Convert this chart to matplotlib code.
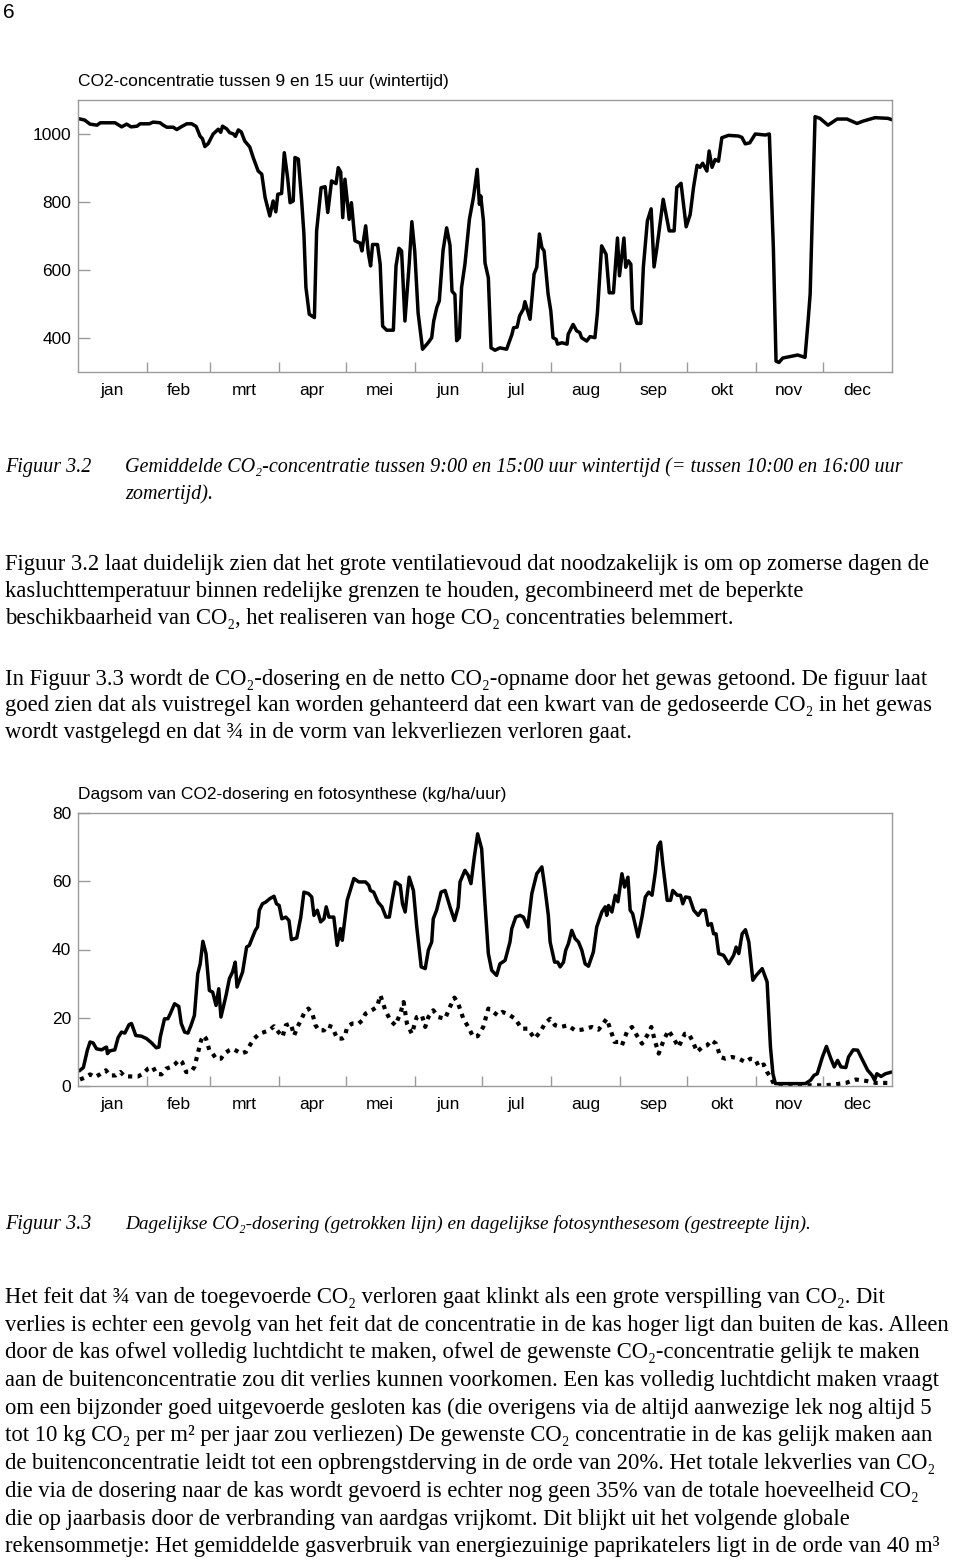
import numpy as np
import matplotlib.pyplot as plt

plt.rcParams['font.family'] = ['Liberation Sans', 'DejaVu Sans']

W, H = 960, 1566
SERIF = ['Liberation Serif', 'DejaVu Serif']

months = ['jan', 'feb', 'mrt', 'apr', 'mei', 'jun', 'jul', 'aug', 'sep', 'okt', 'nov', 'dec']
month_len = [31, 28, 31, 30, 31, 30, 31, 31, 30, 31, 30, 31]

# Figuur 3.2 : CO2-concentratie (ppm) per dag van het jaar
co2_day = [1, 3, 5.4, 8.5, 10, 16.6, 19.6, 21.8, 23.8, 26.5, 27.8, 32, 33.7, 36.8, 38, 39.8,
           42.7, 44.3, 46.5, 48.8, 51, 53, 54.7, 55.8, 56.9, 58.4, 60.6, 62.9, 64, 64.8, 66.7,
           68, 69.7, 70.6, 71.9, 73.2, 74.8, 77, 78.6, 80.8, 82.4, 83.9, 86, 87.5, 88.7, 89.6,
           91.3, 92.5, 94, 95.1, 96.5, 97.3, 98.8, 100.3, 101.3, 102.2, 103.7, 106, 107, 109,
           110.8, 112, 113.7, 115.7, 116.7, 117.8, 118.7, 119.7, 121.6, 122.6, 124.2, 126.5,
           127.3, 129, 130.2, 131.2, 132.1, 134.3, 135.5, 136.6, 138.4, 141.4, 142.6, 143.9,
           145.1, 146.6, 148.5, 149.7, 151, 152.5, 154.5, 157, 158.6, 159.5, 160.9, 162, 163.7,
           165.3, 166.8, 167.7, 169, 169.8, 171, 172, 173.5, 175.5, 177.3, 179, 180,
           180.6, 181.8, 182.5, 184, 185.2, 187, 189.2, 192.2, 194.6, 195.3, 196.9, 198, 199.7,
           200.4, 202.7, 204.5, 205.7, 206.9, 208, 209, 210.8, 212, 213, 214.4, 215, 217, 219.3,
           219.8, 222, 223.6, 225, 225.8, 228.1, 229.6, 231.8, 232.9, 234.8, 236.8, 238.2, 240.1,
           241.9, 242.8, 244.8, 245.6, 246.8, 247.9, 248.6, 250.6, 252.4, 253.5, 255.3, 257,
           258.3, 259.6, 262.4, 265.1, 267.3, 268.5, 270.4, 272.7, 274.5, 276, 277.6, 278.9,
           280.1, 282, 283, 284.3, 285.7, 287.2, 288.7, 291.7, 296.2, 297.7, 299.2, 301.2, 303.7,
           308.2, 310, 311.8, 313, 314.3, 316, 319, 322.7, 326, 327.4, 328.3, 330.5, 332.7,
           336.3, 340.4, 344.8, 349.3, 352.1, 357.4, 363.2, 365]
co2_ppm = [1044, 1041, 1029, 1026, 1033, 1033, 1021, 1029, 1021, 1023, 1030, 1030, 1035, 1033,
           1027, 1020, 1020, 1013, 1022, 1030, 1030, 1022, 994, 986, 963, 972, 1000, 1014, 1005,
           1023, 1015, 1004, 1000, 993, 1012, 1006, 979, 962, 930, 891, 882, 813, 759, 803, 771,
           823, 825, 945, 871, 798, 803, 931, 926, 803, 706, 549, 470, 460, 715, 842, 845, 769,
           862, 854, 901, 888, 754, 867, 749, 798, 686, 679, 656, 730, 649, 612, 675, 675, 617,
           435, 423, 423, 612, 664, 656, 450, 617, 742, 655, 474, 367, 386, 401, 450, 490, 509,
           658, 724, 673, 538, 528, 392, 401, 549, 617, 749, 813, 896, 793,
           818, 744, 621, 577, 371, 364, 371, 367, 411, 430, 432, 465, 485, 507, 455, 588, 608,
           706, 666, 656, 529, 480, 401, 396, 382, 386, 382, 411, 440, 421, 416, 401, 391, 404,
           401, 474, 671, 646, 533, 533, 694, 583, 694, 608, 627, 617, 485, 443, 443, 608, 744,
           780, 609, 666, 808, 715, 715, 843, 855, 727, 763, 843, 908, 902, 914, 891, 950, 902,
           925, 920, 989, 996, 994, 990, 971, 974, 1000, 997, 1000, 665, 332, 328, 341, 345,
           350, 343, 452, 529, 1051, 1046, 1026, 1044, 1044, 1031, 1038, 1048, 1046, 1042]

# Figuur 3.3 : dagelijkse CO2-dosering (kg/ha/uur)
dos_day = [0.9, 2.4, 4.2, 5.4, 6.8, 8.3, 10.6, 12.1, 12.8, 13.2, 14.3, 16.5, 18, 19.5, 21, 22.9,
           24, 25.9, 28.4, 30.7, 32.9, 35.1, 36.3, 36.9, 38.8, 40.3, 41.4, 43.3, 45.2, 46.3, 47.8,
           49.3, 50.7, 52.2, 53.7, 54.8, 56, 57.4, 58.9, 60.4, 61.9, 63.1, 64.1, 66.4, 67.9, 69.3,
           70.5, 71.3, 73.8, 75.6, 76.8, 79.5, 80.5, 81.3, 82.7, 84.2, 86, 87.9, 89, 90.2, 91.4,
           93.2, 94.6, 95.7, 98.1, 99.9, 101.3, 103.3, 104.8, 105.8, 107.3, 108.8, 110.3, 111.3,
           112.5, 114.7, 116.2, 117.7, 118.5, 120.7, 123.7, 125.9, 128.9, 130.4, 131.1, 132.6,
           134.5, 136.3, 138.1, 139.6, 140.8, 142.3, 144.5, 145.5, 146.7, 148.5, 150.4, 151.9,
           153.9, 155.7, 157.1, 158.6, 159.3, 160.8, 162.8, 164.6, 166.8, 168.8, 170.5, 171.3,
           173.5, 175, 176.2, 177.7, 179.2, 181, 182.5, 184, 185.5, 187.7, 189.2, 191.5, 193.7,
           194.5, 196.3, 198.2, 199.7, 201.7, 203.5, 205.7, 208, 209.4, 210.9, 211.7, 213.7,
           215.1, 216.2, 217.7, 218.7, 219.9, 221.4, 222.9, 224.4, 225.9, 227.4, 228.9, 231.1,
           232.6, 234.9, 236.4, 237.1, 237.9, 239.4, 240.9, 242.1, 243.9, 245.1, 246.6, 247.6,
           248.7, 251.1, 252.9, 254.4, 255.9, 257.4, 258.9, 260.1, 261.2, 262.2, 264.2, 265.7,
           266.7, 268.7, 270.2, 271.2, 272.4, 274.2, 276.1, 278.1, 279.6, 281.3, 282.5, 284, 285,
           286.1, 287.3, 289.5, 291.8, 294, 295.1, 296.3, 297.8, 299.3, 300.8, 302.6, 304.1,
           306.8, 309, 310.5, 311.6, 312.7, 314.2, 326.2, 328.5, 330, 331.5, 333.8, 335.6, 337.6,
           339.1, 340.6, 342.1, 344.3, 345.5, 347.6, 349.6, 351.1, 354.1, 356.1, 357.2, 358.2,
           360.1, 362.1, 365]
dos_val = [4.6, 5.4, 10.5, 12.9, 12.6, 10.9, 10.6, 11.2, 11.4, 9.5, 10.3, 10.6, 14.2, 15.8, 15.5,
           18, 18.3, 14.8, 14.6, 13.9, 12.7, 11.2, 11.4, 14.4, 19.7, 19.7, 21.2, 24.1, 23.3, 18.3,
           15.8, 15.5, 17.8, 20.7, 32.9, 35.8, 42.4, 38.8, 28, 27.5, 23.6, 28.5, 20.2, 26.6, 31.5,
           33.4, 36.3, 29, 33.4, 40.7, 41.2, 45.6, 46.6, 51.5, 53.4, 53.9, 54.9, 55.6, 53.4, 52.9,
           49, 49.5, 48.5, 42.9, 43.4, 49.5, 56.8, 56.4, 55.4, 50, 51.5, 48.1, 49, 52.5, 49.5,
           49.5, 41.2, 46.1, 42.7, 54.4, 60.8, 59.8, 59.8, 58.8, 57.3, 56.8, 53.9, 52.5, 49.5,
           49.5, 54.4, 59.8, 58.8, 53.4, 51, 61.2, 57.3, 46.6, 34.9, 34.4, 39.8, 42.2, 49, 51.5,
           56.8, 57.3, 52.5, 48.5, 52.5, 59.8, 63.2, 61.7, 59.3, 67.1, 73.9, 69.5, 53.4, 38.8,
           33.9, 32.4, 35.8, 36.8, 42.2, 46.1, 49.5, 50, 49.5, 46.6, 56.4, 62.2, 64.2, 57.8, 50,
           42.2, 36.3, 36.3, 34.9, 36.3, 39.8, 41.7, 45.6, 43.2, 42.2, 39.8, 35.8, 35.1, 39.3,
           46.6, 51, 52.5, 50, 52.9, 51, 55.9, 54, 62.2, 58.3, 61.2, 51.5, 50.5, 43.7, 49.5,
           55.4, 56.8, 55.9, 62.7, 70.2, 71.5, 65.2, 54.4, 54.4, 57.3, 55.9, 55.9, 53.4, 55.4,
           55.2, 51.5, 50, 51.5, 51.5, 47.1, 47.6, 44.6, 44.6, 38.8, 38.3, 35.8, 38.3, 40.7, 38.8,
           44.6, 45.8, 42.2, 31, 32.4, 34.4, 30.5, 11.4, 3.6, 0.7, 0.7, 0.7, 1.7, 3.1, 3.6, 8.5,
           11.6, 8, 5.6, 7.5, 5.6, 5.4, 8.5, 10.6, 10.5, 8.5, 4.6, 3.1, 1.7, 3.6, 2.8, 3.6, 4.1]

# Figuur 3.3 : dagelijkse fotosynthesesom (kg/ha/uur)
foto_day = [0.9, 3.6, 5.4, 7.6, 9.8, 12.5, 14.3, 17, 19, 21, 24, 26.9, 29.2, 31.4, 33.6, 35.1,
            37.4, 39.6, 41.8, 43.3, 45.5, 46.7, 48.5, 50.7, 52.2, 53.7, 55.2, 56.3, 57.4, 58.9,
            60.4, 61.9, 64.1, 65.6, 67.9, 69.3, 71.1, 73.1, 75.3, 77.5, 79, 81.3, 83.5, 85.7,
            87.9, 89.9, 91.7, 93.2, 95.4, 96.9, 98.4, 99.9, 101.3, 103.3, 105.1, 106.5, 108,
            110.3, 111.8, 114, 116.2, 118.5, 119.6, 120.7, 122.9, 125.9, 127.4, 128.9, 131.8,
            134.1, 135.6, 137.8, 140.1, 142.3, 144.5, 146, 147.5, 149.7, 151.9, 154.2, 155.7,
            157.1, 159.3, 161.6, 164.6, 166.8, 168.8, 170.5, 172.8, 175, 177.2, 179.2, 181.7,
            184, 186.2, 188.2, 190.3, 193, 196, 199, 201.7, 204.7, 207.2, 209.4, 211.7, 213.9,
            216.6, 219.6, 222.9, 225.9, 230.4, 233.4, 235.7, 237.1, 238.6, 240.6, 242.4, 243.9,
            246.1, 248.4, 250.6, 252.9, 255.2, 257.1, 258.6, 260.4, 262.6, 264.8, 267.1, 269.3,
            272.1, 273.9, 275.4, 277.6, 279.9, 282.1, 284, 286.1, 288.1, 290.3, 293.3, 296.3,
            299.3, 301.5, 303.8, 305.3, 307.5, 309, 310.5, 312, 314.2, 326.2, 335.2, 339.7,
            344.3, 348.8, 353.3, 357.8, 365]
foto_val = [1.9, 2.6, 3.4, 2.6, 3.4, 4.6, 3.1, 3.1, 4.1, 2.8, 2.8, 2.8, 3.6, 5.1, 5.6, 3.6, 3.4,
            5.1, 5.6, 6.3, 7.7, 7, 4.1, 4.1, 5.6, 9.5, 13.4, 14.8, 13.9, 10.5, 9.5, 8, 8, 9.5,
            10.5, 10.9, 10.3, 9.5, 10, 12.4, 13.9, 15.3, 15.8, 16.3, 17.5, 15.8, 14.4, 17.8,
            18.3, 14.8, 17.3, 19.2, 21.2, 22.7, 21.2, 17.8, 16.3, 16.3, 17.8, 17.3, 13.9, 13.9,
            14.4, 17.3, 18.3, 18.3, 19.2, 21.2, 22.2, 23.2, 26.6, 22.2, 19.2, 17.8, 21.2, 24.6,
            18.3, 15.3, 20.2, 20.7, 17.3, 20.2, 22.2, 20.2, 19.7, 23.2, 25.9, 24.1, 19.7, 17.3,
            14.4, 14.6, 17.3, 22.7, 21.7, 20.7, 21.7, 21, 19.7, 16.8, 16.8, 13.9, 15.8, 18.3,
            19.7, 17.8, 17.3, 17.8, 16.3, 16.5, 17.3, 16.5, 18.5, 19.7, 16.8, 12.9, 12.9, 11.9,
            15.8, 17.3, 14.8, 12.4, 14.8, 17.3, 13.4, 9.5, 13.4, 16.3, 13.9, 11.4, 15.3, 15.3,
            13.4, 10, 11.4, 11.9, 13.4, 12.4, 8.5, 8, 8.5, 8, 7, 8, 7.7, 5.6, 6.3, 4.1, 2.6, 0.7,
            0.2, 0.2, 0.2, 0.5, 0.9, 1.9, 1.5, 0.9, 0.9]

par1 = ['Figuur 3.2 laat duidelijk zien dat het grote ventilatievoud dat noodzakelijk is om op zomerse dagen de',
        'kasluchttemperatuur binnen redelijke grenzen te houden, gecombineerd met de beperkte',
        'beschikbaarheid van CO\u2082, het realiseren van hoge CO\u2082 concentraties belemmert.']
par2 = ['In Figuur 3.3 wordt de CO\u2082-dosering en de netto CO\u2082-opname door het gewas getoond. De figuur laat',
        'goed zien dat als vuistregel kan worden gehanteerd dat een kwart van de gedoseerde CO\u2082 in het gewas',
        'wordt vastgelegd en dat \u00be in de vorm van lekverliezen verloren gaat.']
par3 = ['Het feit dat \u00be van de toegevoerde CO\u2082 verloren gaat klinkt als een grote verspilling van CO\u2082. Dit',
        'verlies is echter een gevolg van het feit dat de concentratie in de kas hoger ligt dan buiten de kas. Alleen',
        'door de kas ofwel volledig luchtdicht te maken, ofwel de gewenste CO\u2082-concentratie gelijk te maken',
        'aan de buitenconcentratie zou dit verlies kunnen voorkomen. Een kas volledig luchtdicht maken vraagt',
        'om een bijzonder goed uitgevoerde gesloten kas (die overigens via de altijd aanwezige lek nog altijd 5',
        'tot 10 kg CO\u2082 per m\u00b2 per jaar zou verliezen) De gewenste CO\u2082 concentratie in de kas gelijk maken aan',
        'de buitenconcentratie leidt tot een opbrengstderving in de orde van 20%. Het totale lekverlies van CO\u2082',
        'die via de dosering naar de kas wordt gevoerd is echter nog geen 35% van de totale hoeveelheid CO\u2082',
        'die op jaarbasis door de verbranding van aardgas vrijkomt. Dit blijkt uit het volgende globale',
        'rekensommetje: Het gemiddelde gasverbruik van energiezuinige paprikatelers ligt in de orde van 40 m\u00b3']
cap32 = ['Gemiddelde CO\u2082-concentratie tussen 9:00 en 15:00 uur wintertijd (= tussen 10:00 en 16:00 uur',
         'zomertijd).']
cap33 = 'Dagelijkse CO\u2082-dosering (getrokken lijn) en dagelijkse fotosynthesesom (gestreepte lijn).'


def fy(y):
    return 1 - y / H


def month_axis(ax):
    edges = np.cumsum([0] + month_len)
    mids = (edges[:-1] + edges[1:]) / 2
    ax.set_xlim(0, 365)
    ax.set_xticks(edges[1:-1])
    ax.set_xticklabels([])
    ax.set_xticks(mids, minor=True)
    ax.set_xticklabels(months, minor=True)
    ax.tick_params(axis='x', which='major', direction='in', length=7, color='#9a9a9a', width=1)
    ax.tick_params(axis='x', which='minor', length=0, pad=8, labelsize=12.5)
    ax.tick_params(axis='y', direction='in', length=8.5, color='#9a9a9a', width=1,
                   pad=5, labelsize=12.5)
    for s in ax.spines.values():
        s.set_color('#9a9a9a')
        s.set_linewidth(1)


fig = plt.figure(figsize=(W / 100, H / 100), dpi=100)

# top chart
ax1 = fig.add_axes([78 / W, fy(372), (892 - 78) / W, (372 - 100) / H])
ax1.plot(co2_day, co2_ppm, color='black', lw=2.5)
ax1.set_ylim(300, 1100)
ax1.set_yticks([400, 600, 800, 1000])
month_axis(ax1)
fig.text(78 / W, fy(86), 'CO2-concentratie tussen 9 en 15 uur (wintertijd)', fontsize=12.5,
         va='baseline')

# bottom chart
ax2 = fig.add_axes([78 / W, fy(1086), (892 - 78) / W, (1086 - 813) / H])
ax2.plot(dos_day, dos_val, color='black', lw=2.5)
ax2.plot(foto_day, foto_val, color='black', lw=3, linestyle=(0, (1, 1.3)))
ax2.set_ylim(0, 80)
ax2.set_yticks([0, 20, 40, 60, 80])
month_axis(ax2)
fig.text(78 / W, fy(799), 'Dagsom van CO2-dosering en fotosynthese (kg/ha/uur)', fontsize=12.5,
         va='baseline')

# page number
fig.text(3 / W, fy(18), '6', fontsize=15, va='baseline')

body = dict(fontsize=16.3, family=SERIF, va='baseline')
ital = dict(family=SERIF, style='italic', va='baseline')

# captions
fig.text(5 / W, fy(472), 'Figuur 3.2', fontsize=14.5, **ital)
for i, line in enumerate(cap32):
    fig.text(125 / W, fy(472 + 27 * i), line, fontsize=14.5, **ital)
fig.text(5 / W, fy(1229), 'Figuur 3.3', fontsize=14.5, **ital)
fig.text(125 / W, fy(1229), cap33, fontsize=13.9, **ital)

# paragraphs
for i, line in enumerate(par1):
    fig.text(5 / W, fy(570 + 27 * i), line, **body)
for i, line in enumerate(par2):
    fig.text(5 / W, fy(685 + 26.5 * i), line, **body)
for i, line in enumerate(par3):
    fig.text(5 / W, fy(1303 + 27.7 * i), line, **body)

fig.savefig('out.png', dpi=100)
